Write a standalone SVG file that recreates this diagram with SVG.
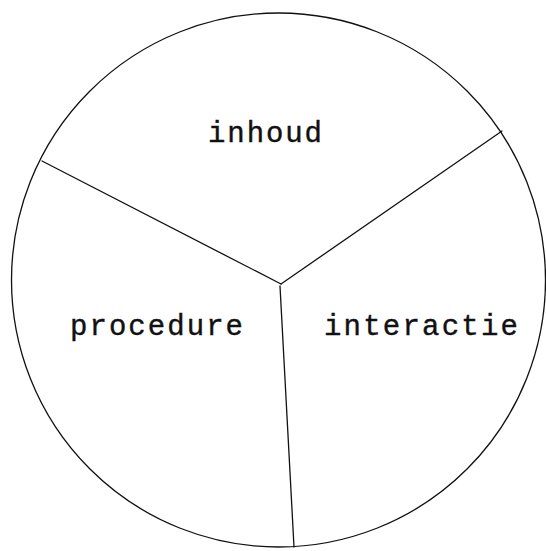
<svg xmlns="http://www.w3.org/2000/svg" width="546" height="551" viewBox="0 0 546 551">
<style>
.edge{fill:none;stroke:#111;stroke-width:1.3;stroke-linecap:round}
.lbl{font-family:"Liberation Mono","DejaVu Sans Mono",monospace;font-size:29px;fill:#111;stroke:#111;stroke-width:0.4}
</style>
<rect width="546" height="551" fill="#fff"/>
<g id="circle"><ellipse cx="278.5" cy="280" rx="267" ry="267" class="edge"/></g>
<g id="connectors">
<line x1="42" y1="161" x2="281" y2="284" class="edge"/>
<line x1="502" y1="131" x2="281" y2="284" class="edge"/>
<line x1="280" y1="286" x2="294" y2="547" class="edge"/>
</g>
<g id="inhoud"><text x="208" y="142" class="lbl" textLength="114" lengthAdjust="spacing">inhoud</text></g>
<g id="procedure"><text x="70" y="335" class="lbl" textLength="173" lengthAdjust="spacing">procedure</text></g>
<g id="interactie"><text x="324" y="335" class="lbl" textLength="194" lengthAdjust="spacing">interactie</text></g>
</svg>
